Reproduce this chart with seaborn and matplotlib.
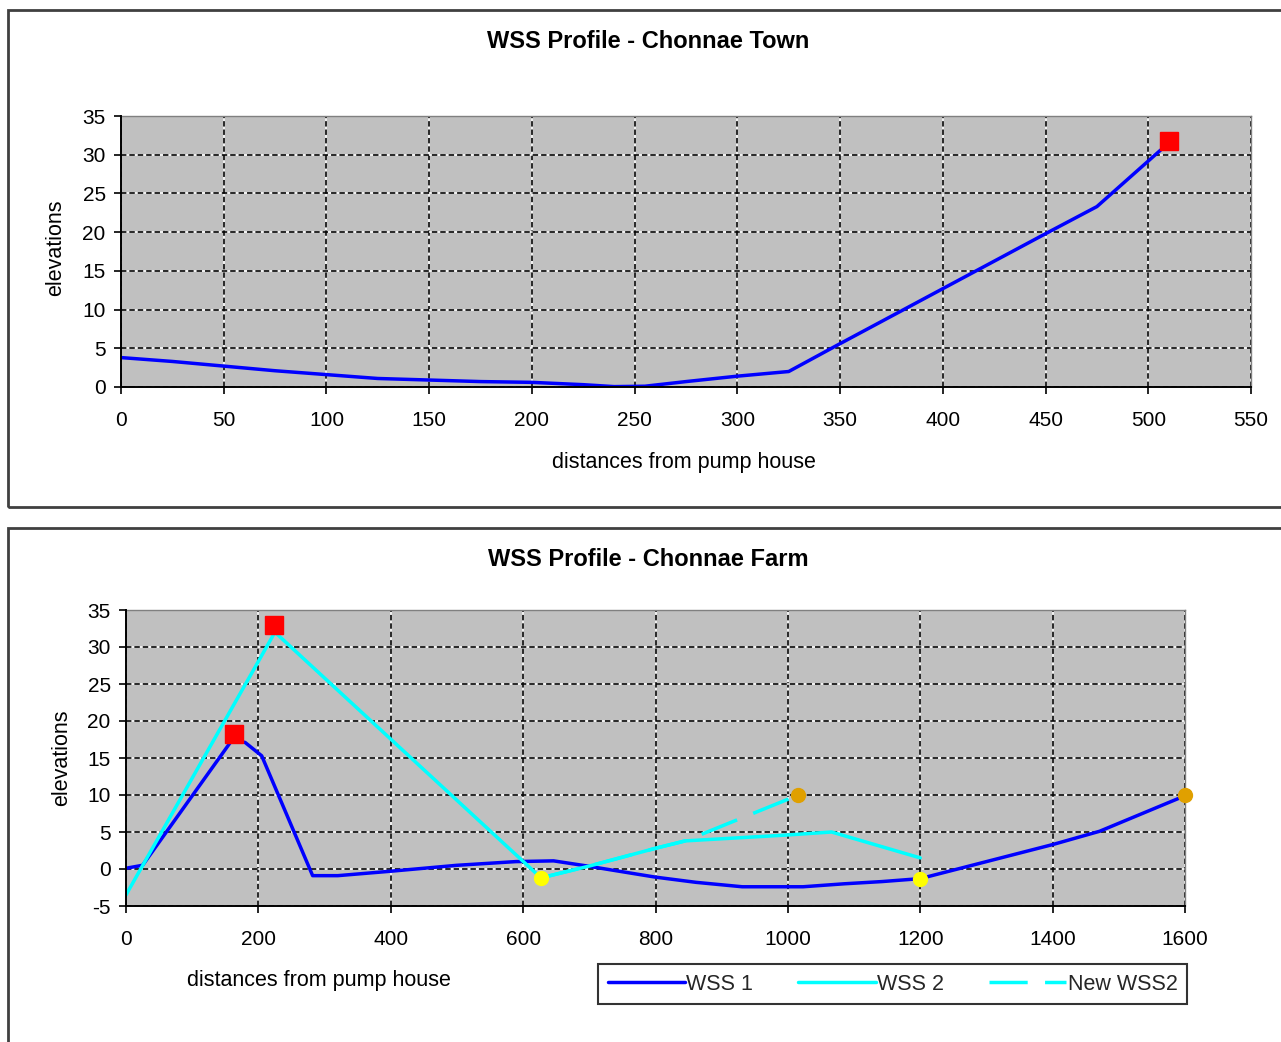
import matplotlib
matplotlib.use("Agg")
import matplotlib.pyplot as plt
import seaborn as sns
import pandas as pd
from matplotlib.patches import Rectangle

# ---------------- data ----------------
town_dist = [0, 25, 50, 75, 100, 125, 150, 175, 200, 225, 240, 255, 275, 300, 325, 350, 400, 450, 475, 506]
town_elev = [3.8, 3.3, 2.7, 2.1, 1.6, 1.1, 0.9, 0.7, 0.6, 0.3, 0.05, 0.1, 0.7, 1.4, 2.0, 5.6, 12.7, 19.8, 23.3, 30.6]
town_peak_dist = [510]
town_peak_elev = [31.8]

wss1_dist = [0, 25, 160, 180, 205, 282, 320, 400, 500, 589, 646, 697, 800, 861, 931, 1023, 1085, 1142, 1200, 1400, 1471, 1600]
wss1_elev = [0.1, 0.5, 17.4, 17.1, 15.3, -0.9, -0.9, -0.3, 0.5, 1.0, 1.1, 0.4, -1.1, -1.8, -2.4, -2.4, -2.0, -1.7, -1.3, 3.3, 5.1, 9.9]

wss2_dist = [0, 225, 627, 700, 800, 845, 1000, 1066, 1200]
wss2_elev = [-3.5, 32.0, -1.2, 0.4, 2.8, 3.8, 4.6, 5.0, 1.5]

new_wss2_dist = [627, 700, 800, 845, 1016]
new_wss2_elev = [-1.2, 0.4, 2.8, 3.8, 10.0]

farm_peak_dist = [163, 223]
farm_peak_elev = [18.2, 33.0]
yellow_dist = [627, 1200]
yellow_elev = [-1.2, -1.3]
orange_dist = [1016, 1600]
orange_elev = [10.0, 10.0]

top_xticks = list(range(0, 551, 50))
top_yticks = list(range(0, 36, 5))
bot_xticks = list(range(0, 1601, 200))
bot_yticks = list(range(-5, 36, 5))

# ---------------- style ----------------
sns.set_theme(style="white")
plt.rcParams['font.family'] = ['Liberation Sans', 'DejaVu Sans']
plt.rcParams['axes.unicode_minus'] = False

W, H = 1281, 1042
fig = plt.figure(figsize=(W / 100, H / 100), dpi=100)
fig.patch.set_facecolor("white")

def fx(px):
    return px / W

def fy(py):
    return 1 - py / H

# panel borders
for (x0, y0, x1, y1) in [(8, 10, 1295, 507), (8, 528, 1295, 1060)]:
    fig.patches.append(Rectangle((fx(x0), fy(y1)), fx(x1 - x0), (y1 - y0) / H,
                                 transform=fig.transFigure, fill=False,
                                 edgecolor="#404040", linewidth=2.0, clip_on=False))

BLUE = "#0000FF"
CYAN = "#00FFFF"
GRAY = "#C0C0C0"
TICK_FS = 15
LABEL_FS = 15.5
TITLE_FS = 17


def style_axes(ax, xticks, yticks, xlim, ylim):
    ax.set_facecolor(GRAY)
    ax.set_xlim(*xlim)
    ax.set_ylim(*ylim)
    ax.set_xticks(xticks)
    ax.set_yticks(yticks)
    ax.tick_params(axis="both", labelsize=TICK_FS, direction="out", length=5, width=1.2,
                   color="black", labelcolor="black")
    ax.tick_params(axis="x", bottom=True, pad=12)
    ax.tick_params(axis="y", left=True, pad=6)
    ax.grid(True, color="black", linestyle=(0, (3.5, 2)), linewidth=1.1, gapcolor="white")
    ax.set_axisbelow(True)
    for s in ["left", "bottom"]:
        ax.spines[s].set_color("black")
        ax.spines[s].set_linewidth(1.4)
        ax.spines[s].set_zorder(5)
    for s in ["top", "right"]:
        ax.spines[s].set_color("#808080")
        ax.spines[s].set_linewidth(1.0)


# ---------------- top chart ----------------
ax1 = fig.add_axes([fx(121), fy(387), fx(1251 - 121), (387 - 116) / H])
style_axes(ax1, top_xticks, top_yticks, (0, 550), (0, 35))
sns.lineplot(x=town_dist, y=town_elev, ax=ax1, color=BLUE, linewidth=2.5,
             sort=False, estimator=None, legend=False, zorder=3)
ax1.plot(town_peak_dist, town_peak_elev, linestyle="none", marker="s", markersize=13,
         color="#FF0000", zorder=4, clip_on=False)
ax1.set_xlabel("distances from pump house", fontsize=LABEL_FS, color="black")
ax1.set_ylabel("elevations", fontsize=LABEL_FS, color="black")
ax1.xaxis.set_label_coords(0.498, -0.24)
ax1.yaxis.set_label_coords(-0.049, 0.513)
fig.text(fx(648), fy(41), "WSS Profile - Chonnae Town", ha="center", va="center",
         fontsize=TITLE_FS, fontweight="bold", color="black")

# ---------------- bottom chart ----------------
ax2 = fig.add_axes([fx(126), fy(906), fx(1185 - 126), (906 - 610) / H])
style_axes(ax2, bot_xticks, bot_yticks, (0, 1600), (-5, 35))
sns.lineplot(x=wss1_dist, y=wss1_elev, ax=ax2, color=BLUE, linewidth=2.5,
             sort=False, estimator=None, label="WSS 1", zorder=3)
sns.lineplot(x=wss2_dist, y=wss2_elev, ax=ax2, color=CYAN, linewidth=2.5,
             sort=False, estimator=None, label="WSS 2", zorder=3)
sns.lineplot(x=new_wss2_dist, y=new_wss2_elev, ax=ax2, color=CYAN, linewidth=2.5,
             sort=False, estimator=None, label="New WSS2", zorder=3)
ax2.lines[-1].set_dashes([11, 5])
ax2.plot(farm_peak_dist, farm_peak_elev, linestyle="none", marker="s", markersize=13,
         color="#FF0000", zorder=4, clip_on=False)
ax2.plot(yellow_dist, yellow_elev, linestyle="none", marker="o", markersize=10,
         color="#FFFF00", zorder=4, clip_on=False)
ax2.plot(orange_dist, orange_elev, linestyle="none", marker="o", markersize=10,
         color="#E0A000", zorder=4, clip_on=False)
ax2.set_xlabel("distances from pump house", fontsize=LABEL_FS, color="black")
ax2.set_ylabel("elevations", fontsize=LABEL_FS, color="black")
ax2.xaxis.set_label_coords(0.182, -0.216)
ax2.yaxis.set_label_coords(-0.051, 0.5)
fig.text(fx(648), fy(559), "WSS Profile - Chonnae Farm", ha="center", va="center",
         fontsize=TITLE_FS, fontweight="bold", color="black")

leg = ax2.legend(loc="center", bbox_to_anchor=(fx((593 + 1192) / 2), fy(984)),
                 bbox_transform=fig.transFigure, ncol=3, frameon=True, fancybox=False,
                 fontsize=LABEL_FS, handlelength=3.6, handletextpad=0.05, columnspacing=2.1,
                 borderpad=0.45, edgecolor="black")
leg.get_frame().set_linewidth(1.5)
leg.get_frame().set_facecolor("white")

fig.savefig("out.png", dpi=100, facecolor="white")
